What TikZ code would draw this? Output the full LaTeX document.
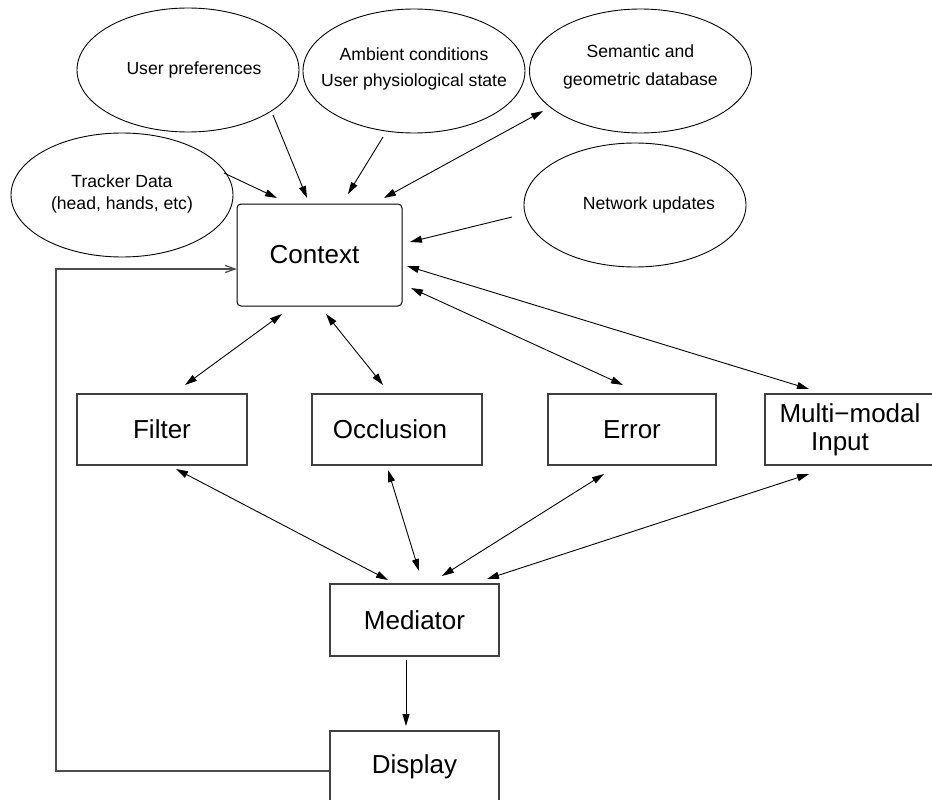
\documentclass[tikz,border=0pt]{standalone}
\usepackage{fontspec}
\setmainfont{Liberation Sans}
\usetikzlibrary{shapes.geometric,arrows.meta,calc}
\tikzset{
  boxnode/.style={draw=black!75, line width=1.2pt, rectangle, minimum width=170pt, minimum height=71pt, inner sep=0pt, outer sep=0pt, align=center, font=\fontsize{26}{28}\selectfont},
  ellnode/.style={draw=black, line width=0.9pt, ellipse, minimum width=222pt, minimum height=124pt, inner sep=0pt, outer sep=0pt},
  elltext/.style={align=center, inner sep=0pt, font=\fontsize{17.6}{26}\selectfont},
  conn/.style={draw=black, line width=0.9pt, -{Triangle[length=12pt,width=7pt]}},
  biconn/.style={draw=black, line width=0.9pt, {Triangle[length=12pt,width=7pt]}-{Triangle[length=12pt,width=7pt]}},
  fbline/.style={draw=black!70, line width=1.2pt, -{Straight Barb[length=10pt,width=7pt]}}
}
\begin{document}
\begin{tikzpicture}[x=1pt,y=-1pt]
\useasboundingbox (0,0) rectangle (932,800);
% ellipses
\node[ellnode] (user) at (188,70) {};
\node[elltext] (usertxt) at ($(user.center)+(6,0)$) {User preferences};
\node[ellnode] (amb) at (414,71) {};
\node[elltext] (ambtxt) at ($(amb.center)+(0,-2)$) {Ambient conditions\\User physiological state};
\node[ellnode] (sem) at (640.5,71) {};
\node[elltext] (semtxt) at ($(sem.center)+(0,-4)$) {Semantic and\\[2pt]geometric database};
\node[ellnode] (track) at (122,195) {};
\node[elltext] (tracktxt) at ($(track.center)+(0,-1)$) {Tracker Data\\[-4pt](head, hands, etc)};
\node[ellnode] (net) at (635,205) {};
\node[elltext] (nettxt) at ($(net.center)+(14,0)$) {Network updates};
% boxes
\node[boxnode, draw=black, line width=1pt, rounded corners=4pt, minimum width=165pt, minimum height=102pt] (context) at (319.5,255) {Context\hspace*{10pt}};
\node[boxnode] (filter) at (162,429.5) {Filter};
\node[boxnode] (occ) at (397,429.5) {Occlusion\hspace*{14pt}};
\node[boxnode, minimum width=168pt] (err) at (632,429.5) {Error};
\node[boxnode] (multi) at (850,429.5) {Multi−modal\\Input\hspace*{20pt}};
\node[boxnode, minimum width=169pt, minimum height=72pt] (med) at (414.5,620) {Mediator};
\node[boxnode, minimum width=169pt, minimum height=72pt] (disp) at (414.5,767) {Display};
% inputs to context
\draw[conn] ($(track.center)+(102,-22)$) -- ($(context.center)+(-42.5,-57)$);
\draw[conn] ($(user.center)+(85,45)$) -- ($(context.center)+(-12.5,-57)$);
\draw[conn] ($(amb.center)+(-31,66)$) -- ($(context.center)+(28.5,-61)$);
\draw[biconn] ($(context.center)+(64.5,-57)$) -- ($(sem.center)+(-97.5,40)$);
\draw[conn] ($(net.center)+(-123,12)$) -- ($(context.center)+(90.5,-13)$);
% context to modules
\draw[biconn] ($(context.center)+(87.5,11)$) -- ($(multi.center)+(-41,-40.5)$);
\draw[biconn] ($(context.center)+(91.5,33)$) -- ($(err.center)+(-9,-44.5)$);
\draw[biconn] ($(context.center)+(-37.5,59)$) -- ($(filter.center)+(23,-44.5)$);
\draw[biconn] ($(context.center)+(6.5,59)$) -- ($(occ.center)+(-14,-44.5)$);
% modules to mediator
\draw[biconn] ($(filter.center)+(14,39.5)$) -- ($(med.center)+(-26.5,-40)$);
\draw[biconn] ($(occ.center)+(-9,40.5)$) -- ($(med.center)+(4.5,-49)$);
\draw[biconn] ($(err.center)+(-28,44.5)$) -- ($(med.center)+(27.5,-44)$);
\draw[biconn] ($(multi.center)+(-41,44.5)$) -- ($(med.center)+(72.5,-41)$);
% mediator to display
\draw[conn] ($(med.center)+(-8.5,40)$) -- ($(disp.center)+(-8.5,-41)$);
% feedback
\coordinate (fb1) at (56,771);
\coordinate (fb2) at (56,269);
\draw[fbline] ($(disp.west)+(0,4)$) -- (fb1) -- (fb2) -- (context.west |- fb2);
\end{tikzpicture}
\end{document}
